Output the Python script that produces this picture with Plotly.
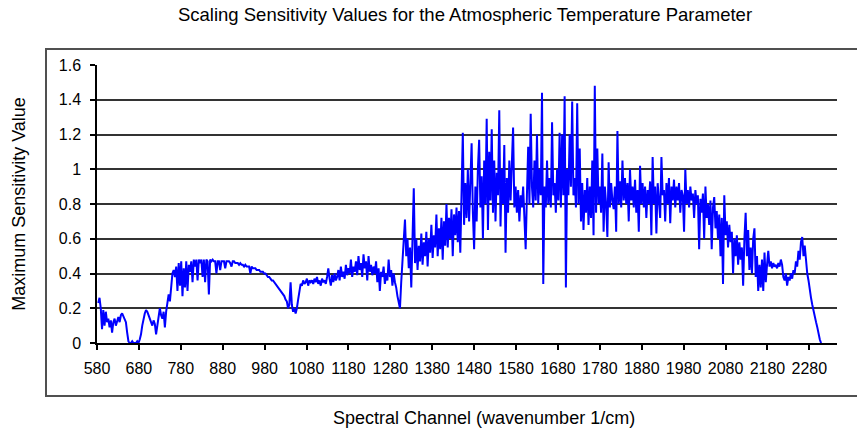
import plotly.graph_objects as go

# Spectral channel grid (wavenumber, 1/cm)
wn_start = 583
wn_step = 3

# Maximum sensitivity values, in order of wavenumber
seg_a = [  # 583 - 1030
    0.23, 0.26, 0.2, 0.08, 0.19, 0.1, 0.18, 0.12, 0.14, 0.09,
    0.13, 0.06, 0.12, 0.14, 0.1, 0.13, 0.15, 0.12, 0.16, 0.17,
    0.15, 0.14, 0.12, 0.06, 0.01, 0.0, 0.0, 0.01, 0.0, 0.0,
    0.0, 0.01, 0.0, 0.02, 0.05, 0.1, 0.14, 0.17, 0.19, 0.18,
    0.16, 0.14, 0.12, 0.1, 0.13, 0.11, 0.05, 0.1, 0.15, 0.2,
    0.16, 0.14, 0.18, 0.09, 0.18, 0.22, 0.28, 0.24, 0.35, 0.4,
    0.42, 0.38, 0.44, 0.3, 0.46, 0.33, 0.47, 0.27, 0.43, 0.32,
    0.47, 0.3, 0.45, 0.41, 0.47, 0.35, 0.48, 0.44, 0.48, 0.36,
    0.48, 0.46, 0.48, 0.38, 0.48, 0.35, 0.48, 0.47, 0.28, 0.48,
    0.47, 0.48, 0.47, 0.47, 0.4, 0.47, 0.47, 0.42, 0.47, 0.47,
    0.47, 0.43, 0.47, 0.47, 0.47, 0.46, 0.44, 0.47, 0.47, 0.46,
    0.46, 0.46, 0.45, 0.46, 0.45, 0.45, 0.44, 0.45, 0.44, 0.44,
    0.44, 0.4, 0.44, 0.43, 0.43, 0.43, 0.42, 0.42, 0.42, 0.41,
    0.41, 0.41, 0.4, 0.4, 0.39, 0.38, 0.38, 0.37, 0.36, 0.36,
    0.35, 0.34, 0.33, 0.32, 0.31, 0.3, 0.29, 0.28, 0.27, 0.25,
]
seg_b = [  # 1033 - 1300
    0.24, 0.2, 0.22, 0.35, 0.22, 0.18, 0.2, 0.17, 0.2, 0.25,
    0.3, 0.34, 0.33, 0.36, 0.34, 0.35, 0.37, 0.33, 0.36, 0.35,
    0.36, 0.34, 0.37, 0.35, 0.38, 0.34, 0.36, 0.33, 0.37, 0.35,
    0.36, 0.34, 0.38, 0.43, 0.37, 0.33, 0.39, 0.35, 0.4, 0.36,
    0.38, 0.42, 0.36, 0.44, 0.38, 0.41, 0.37, 0.45, 0.39, 0.43,
    0.4, 0.48, 0.38, 0.44, 0.41, 0.47, 0.39, 0.5, 0.42, 0.46,
    0.38, 0.51, 0.43, 0.47, 0.36, 0.5, 0.41, 0.45, 0.39, 0.44,
    0.4, 0.47, 0.35, 0.43, 0.3, 0.41, 0.38, 0.44, 0.34, 0.4,
    0.36, 0.48, 0.38, 0.42, 0.33, 0.4, 0.35, 0.32, 0.27, 0.24,
]
seg_c = [  # 1303 - 1600
    0.2, 0.35, 0.48, 0.56, 0.71, 0.5, 0.6, 0.43, 0.55, 0.32,
    0.58, 0.89, 0.46, 0.6, 0.42, 0.56, 0.47, 0.63, 0.45, 0.58,
    0.5, 0.64, 0.44, 0.6, 0.52, 0.68, 0.49, 0.62, 0.55, 0.74,
    0.5, 0.66, 0.54, 0.72, 0.48, 0.7, 0.56, 0.8, 0.55, 0.72,
    0.6, 0.77, 0.5, 0.74, 0.62, 0.78, 0.58, 0.76, 0.52, 0.8,
    1.21, 0.68, 0.92, 0.72, 1.0, 0.7, 0.88, 1.15, 0.75, 0.54,
    0.9, 0.7, 1.0, 1.17, 0.78, 0.96, 0.6, 1.05, 0.8, 1.29,
    0.65, 1.1, 0.82, 1.23, 0.75, 1.05, 0.7, 0.98, 0.85, 1.34,
    0.67, 1.0, 0.8, 1.14, 0.52, 0.95, 0.75, 1.05, 0.82, 1.0,
    1.24, 0.78, 0.9, 0.75, 0.88, 0.7, 0.85, 0.78, 0.9, 0.72,
]
seg_d = [  # 1603 - 1900
    0.54, 0.85, 1.13, 0.8, 1.32, 0.9, 0.78, 1.05, 0.82, 1.2,
    0.8, 1.0, 0.85, 1.44, 0.34, 0.9, 0.78, 1.05, 0.8, 0.95,
    0.78, 1.27, 0.85, 0.92, 0.75, 1.0, 0.82, 1.21, 0.78, 1.2,
    0.85, 1.42, 0.32, 1.0, 0.85, 1.2, 0.9, 1.39, 0.85, 0.95,
    0.78, 1.38, 0.8, 1.12, 0.7, 0.92, 0.65, 0.88, 0.75, 0.95,
    0.68, 0.9, 0.72, 1.05, 0.62, 1.48, 0.75, 1.12, 0.8, 0.9,
    0.75, 1.09, 0.64, 0.9, 0.8, 0.61, 1.04, 0.78, 0.92, 0.82,
    0.77, 0.9, 0.64, 1.22, 0.8, 0.93, 0.78, 1.05, 0.82, 0.95,
    0.8, 0.92, 0.7, 1.0, 0.82, 0.9, 0.78, 0.94, 0.75, 0.88,
    0.64, 1.02, 0.8, 0.92, 0.78, 0.9, 0.72, 0.88, 0.8, 0.93,
]
seg_e = [  # 1903 - 2200
    0.62, 1.07, 0.8, 0.9, 0.63, 0.92, 0.82, 0.72, 1.07, 0.85,
    0.88, 0.7, 0.92, 0.8, 0.95, 0.69, 0.9, 0.82, 0.94, 0.78,
    0.9, 0.82, 0.92, 0.75, 0.88, 0.85, 0.64, 1.0, 0.8, 0.88,
    0.78, 0.9, 0.82, 0.86, 0.72, 0.88, 0.8, 0.85, 0.54, 0.83,
    0.75, 0.86, 0.6, 0.9, 0.72, 0.8, 0.68, 0.82, 0.54, 0.78,
    0.84, 0.66, 0.76, 0.6, 0.74, 0.5, 0.72, 0.34, 0.85, 0.62,
    0.7, 0.55, 0.68, 0.58, 0.64, 0.4, 0.6, 0.5, 0.62, 0.45,
    0.58, 0.48, 0.55, 0.33, 0.6, 0.75, 0.5, 0.65, 0.42, 0.55,
    0.4, 0.6, 0.66, 0.38, 0.5, 0.3, 0.45, 0.32, 0.48, 0.3,
    0.52, 0.35, 0.45, 0.53, 0.44, 0.47, 0.43, 0.46, 0.44, 0.45,
]
seg_f = [  # 2203 - 2308
    0.43, 0.46, 0.44, 0.48, 0.45, 0.38, 0.36, 0.4, 0.33, 0.38,
    0.36, 0.4, 0.37, 0.42, 0.4, 0.47, 0.44, 0.53, 0.48, 0.58,
    0.61, 0.5, 0.56, 0.45, 0.4, 0.36, 0.3, 0.26, 0.22, 0.18,
    0.15, 0.12, 0.09, 0.05, 0.02, 0.0,
]

sensitivity = seg_a + seg_b + seg_c + seg_d + seg_e + seg_f
wavenumber = [wn_start + wn_step * i for i in range(len(sensitivity))]

x_tick_vals = list(range(580, 2281, 100))
y_tick_vals = [0, 0.2, 0.4, 0.6, 0.8, 1.0, 1.2, 1.4, 1.6]
y_tick_text = ["0", "0.2", "0.4", "0.6", "0.8", "1", "1.2", "1.4", "1.6"]

FONT = "Liberation Sans, Arial, sans-serif"

fig = go.Figure()
fig.add_trace(go.Scatter(
    x=wavenumber, y=sensitivity, mode="lines",
    line=dict(color="#0000FF", width=2),
    showlegend=False, hoverinfo="x+y",
))

fig.update_layout(
    width=857, height=431,
    margin=dict(l=97, r=20, t=65, b=88),
    paper_bgcolor="white", plot_bgcolor="white",
    font=dict(family=FONT, color="black", size=15),
    title=dict(
        text="Scaling Sensitivity Values for the Atmospheric Temperature Parameter",
        x=465 / 857, xref="container", xanchor="center",
        y=1 - 15 / 431, yref="container", yanchor="middle",
        font=dict(family=FONT, size=18.5, color="black"),
    ),
    xaxis=dict(
        range=[580, 2346], tickmode="array", tickvals=x_tick_vals,
        ticks="outside", ticklen=5, tickwidth=1.5, tickcolor="black",
        showline=True, linecolor="black", linewidth=1.5,
        showgrid=False, zeroline=False,
        tickfont=dict(family=FONT, size=16, color="black"),
        ticklabelstandoff=5,
    ),
    yaxis=dict(
        range=[0, 1.6], tickmode="array", tickvals=y_tick_vals, ticktext=y_tick_text,
        ticks="outside", ticklen=5, tickwidth=1.5, tickcolor="black",
        showline=True, linecolor="black", linewidth=1.5,
        showgrid=True, gridcolor="#333333", gridwidth=1.7,
        zeroline=False,
        tickfont=dict(family=FONT, size=16, color="black"),
        ticklabelstandoff=6,
        title=dict(text="Maximum Sensitivity Value",
                   font=dict(family=FONT, size=18, color="black"),
                   standoff=28),
    ),
    annotations=[dict(
        text="Spectral Channel (wavenumber 1/cm)",
        xref="paper", yref="paper",
        x=(484 - 97) / 740, y=(343 - 418) / 278,
        xanchor="center", yanchor="middle", showarrow=False,
        font=dict(family=FONT, size=18, color="black"),
    )],
    shapes=[dict(
        type="rect", xref="paper", yref="paper",
        x0=(46 - 97) / 740, x1=(880 - 97) / 740,
        y0=(343 - 396) / 278, y1=(343 - 49) / 278,
        line=dict(color="#505050", width=2), fillcolor="rgba(0,0,0,0)",
        layer="below",
    )],
)

fig.write_html("out.html")
